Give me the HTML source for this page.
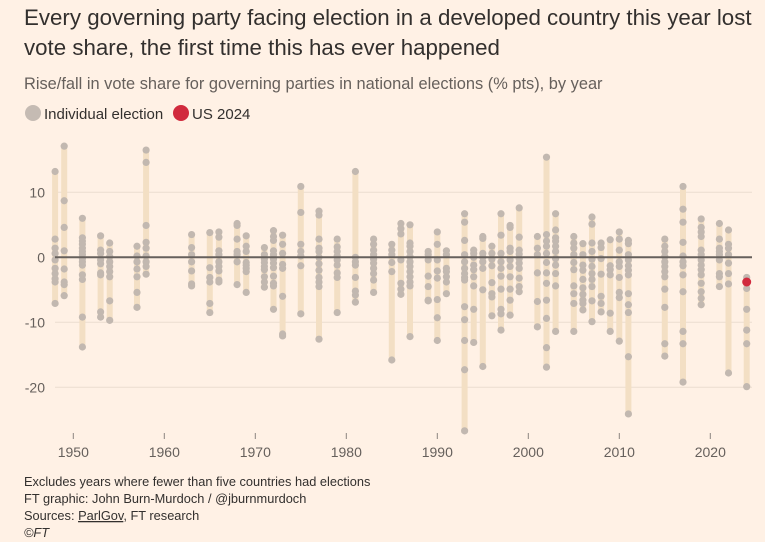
<!DOCTYPE html>
<html><head><meta charset="utf-8"><style>
body{margin:0;background:#fff1e5;width:765px;height:542px;overflow:hidden;font-family:"Liberation Sans",sans-serif;}
svg{position:absolute;left:0;top:0}
</style></head><body>
<svg id="chart" width="765" height="542">
<text x="24" y="25" font-size="22.3" fill="#33302e">Every governing party facing election in a developed country this year lost</text>
<text x="24" y="55" font-size="22.3" fill="#33302e">vote share, the first time this has ever happened</text>
<text x="24" y="89" font-size="16.4" fill="#66605c">Rise/fall in vote share for governing parties in national elections (% pts), by year</text>
<circle cx="33" cy="113" r="8" fill="#c5bbb3"/>
<text x="44" y="119" font-size="15" fill="#33302e">Individual election</text>
<circle cx="181" cy="113" r="8" fill="#d12a3d"/>
<text x="192" y="119" font-size="15" fill="#33302e">US 2024</text>
<g id="grid"></g><g id="bars"></g><g id="dots"></g>
<text x="24" y="486" font-size="12.8" fill="#33302e">Excludes years where fewer than five countries had elections</text>
<text x="24" y="503" font-size="12.8" fill="#33302e">FT graphic: John Burn-Murdoch / @jburnmurdoch</text>
<text x="24" y="520" font-size="12.8" fill="#33302e">Sources: <tspan text-decoration="underline">ParlGov</tspan>, FT research</text>
<text x="24" y="537" font-size="12.8" font-style="italic" fill="#33302e">©FT</text>
</svg>
<script>
const years=[1948,1949,1951,1953,1954,1957,1958,1963,1965,1966,1968,1969,1971,1972,1973,1975,1977,1979,1981,1983,1985,1986,1987,1989,1990,1991,1993,1994,1995,1996,1997,1998,1999,2001,2002,2003,2005,2006,2007,2008,2009,2010,2011,2015,2017,2019,2021,2022,2024];
const values=[
[13.2,2.8,1.4,0.6,-0.4,-1.7,-2.5,-3.3,-3.8,-7.1],
[17.1,8.7,4.6,1.0,-1.8,-3.8,-4.2,-5.9],
[6.0,3.0,2.5,2.0,1.4,0.9,0.4,-0.2,-0.7,-1.2,-2.7,-3.4,-9.2,-13.8],
[3.3,1.1,0.6,-0.4,-1.0,-2.4,-2.7,-8.4,-9.2],
[2.2,0.9,0.1,-0.7,-1.4,-2.2,-3.0,-6.7,-9.7],
[1.7,0.2,-0.7,-1.8,-3.0,-5.4,-7.7],
[16.5,14.6,4.9,2.3,1.4,0.2,-0.7,-1.4,-2.6],
[3.5,1.5,0.4,-0.7,-2.1,-4.1,-4.4],
[3.8,-1.6,-3.1,-3.8,-7.1,-8.5],
[3.9,3.1,1.0,0.4,-0.7,-1.4,-2.1,-3.5,-3.8],
[5.2,4.9,2.8,0.9,0.4,-0.7,-4.2],
[3.3,1.7,0.9,-0.8,-1.2,-1.7,-2.2,-5.4],
[1.5,0.4,-0.3,-0.8,-1.4,-1.9,-3.0,-3.8,-4.6],
[4.1,3.2,2.6,1.0,0.4,-0.3,-0.9,-1.6,-2.9,-4.0,-4.4,-8.0],
[3.4,2.0,0.6,-1.1,-1.7,-6.0,-11.8,-12.1],
[10.9,6.9,2.0,0.9,0.2,-1.3,-8.7],
[7.1,6.5,2.8,1.4,0.9,0.0,-1.0,-2.0,-3.1,-3.8,-4.5,-12.6],
[2.8,1.6,0.9,0.2,-0.4,-1.2,-2.4,-3.1,-8.5],
[13.2,0.0,-0.7,-1.2,-3.1,-5.2,-5.8,-6.9],
[2.8,2.0,1.1,0.4,-0.3,-0.9,-1.7,-2.5,-3.5,-5.4],
[2.0,1.1,0.4,-0.8,-2.2,-15.8],
[5.2,4.4,3.6,-0.4,-4.0,-4.9,-5.7],
[5.0,2.2,1.7,0.9,0.1,-0.7,-1.4,-2.2,-3.0,-3.8,-4.4,-12.2],
[0.9,0.4,-0.4,-2.9,-4.5,-6.6,-6.7],
[3.9,2.0,-0.4,-2.1,-3.2,-6.5,-9.3,-12.8],
[1.0,0.4,-1.7,-2.2,-3.0,-3.8,-5.6],
[6.7,5.4,2.6,0.4,-0.7,-1.7,-2.5,-3.1,-3.5,-7.6,-9.6,-12.8,-17.3,-26.7],
[1.1,0.6,0.0,-1.2,-1.9,-3.0,-4.4,-8.0,-13.1],
[3.2,2.9,0.6,0.0,-0.7,-1.7,-5.0,-16.8],
[1.7,0.6,-0.3,-1.3,-3.9,-5.6,-6.1,-9.0],
[6.7,3.4,0.6,-0.7,-1.7,-2.9,-4.9,-8.0,-8.7,-11.2],
[4.9,4.6,1.4,0.9,-0.4,-1.4,-3.0,-4.9,-6.6,-8.9],
[7.6,3.1,1.1,0.5,-0.2,-0.9,-1.7,-3.2,-4.5,-5.3],
[3.2,1.4,0.4,-2.4,-6.8,-10.7],
[15.4,3.5,2.5,1.7,0.6,-0.8,-2.4,-4.0,-6.6,-9.4,-13.9,-16.9],
[6.7,4.2,3.0,2.5,1.7,0.9,-0.2,-1.2,-2.5,-4.4,-11.4],
[3.2,2.2,1.4,0.4,-0.8,-1.9,-4.4,-5.6,-7.1,-11.4],
[2.1,0.4,-1.2,-2.0,-3.4,-4.7,-5.7,-6.6,-7.1,-8.1],
[6.2,5.1,2.2,0.9,-0.3,-1.4,-2.5,-3.4,-4.5,-6.7,-9.9],
[2.2,1.5,-0.2,-2.6,-6.0,-7.1,-8.4],
[2.7,-1.3,-1.9,-2.7,-8.6,-11.4],
[3.9,2.8,1.1,-0.7,-1.4,-3.1,-5.4,-6.2,-12.9],
[2.6,2.1,0.4,-0.4,-1.3,-2.0,-2.7,-5.6,-7.3,-8.5,-15.3,-24.1],
[2.8,1.7,0.9,0.1,-0.7,-1.4,-2.2,-3.0,-4.9,-7.7,-13.3,-15.2],
[10.9,7.4,5.4,2.3,0.2,-0.7,-1.3,-2.7,-5.3,-11.4,-13.3,-19.2],
[5.9,4.6,3.9,3.2,1.1,0.4,-0.4,-1.2,-1.9,-2.7,-4.0,-5.3,-6.3,-7.3],
[5.2,2.8,1.4,0.9,0.4,-0.4,-2.5,-3.0,-4.5],
[4.2,2.0,1.4,0.4,-0.9,-2.5,-4.1,-17.8],
[-3.1,-4.8,-8.0,-11.2,-13.3,-19.9]
];
const usYear=2024;
const usValue=-3.8;
const yTicks=[10,0,-10,-20];
const xTicks=[1950,1960,1970,1980,1990,2000,2010,2020];

const NS="http://www.w3.org/2000/svg";
const X=y=>73.3+(y-1950)*9.1;
const Y=v=>257.3-v*6.5;
function mk(tag,attrs,parent){const e=document.createElementNS(NS,tag);for(const k in attrs)e.setAttribute(k,attrs[k]);parent.appendChild(e);return e;}
const grid=document.getElementById('grid'),bars=document.getElementById('bars'),dots=document.getElementById('dots');
yTicks.forEach(t=>{
  if(t!==0){const l=mk('line',{x1:55,x2:752,y1:Y(t),y2:Y(t),stroke:'#ebddd0','stroke-width':1},grid);
  
  }
  const tx=mk('text',{x:45,y:Y(t)+5,'text-anchor':'end','font-size':14,fill:'#66605c'},grid);
  tx.textContent=t;
  
  
});
xTicks.forEach(t=>{
  const l=mk('line',{x1:X(t),x2:X(t),y1:433,y2:439,stroke:'#8a8480','stroke-width':1},grid);
  
  
  const tx=mk('text',{x:X(t),y:457,'text-anchor':'middle','font-size':14,fill:'#66605c'},grid);
  tx.textContent=t;
  
  
});
years.forEach((yr,i)=>{
  const vs=values[i];
  let mx=Math.max(...vs),mn=Math.min(...vs);
  if(yr===usYear){mx=Math.max(mx,usValue);mn=Math.min(mn,usValue);}
  const r=mk('rect',{x:X(yr)-3,y:Y(mx),width:6,height:Y(mn)-Y(mx),fill:'#f3dfc4'},bars);
  
  
  vs.forEach(v=>{
    const c=mk('circle',{cx:X(yr),cy:Y(v),r:3.6,fill:'#c2b8b0'},dots);
    
    
  });
});
const z=mk('line',{x1:55,x2:752,y1:Y(0),y2:Y(0),stroke:'#66605c','stroke-width':2},dots);


const us=mk('circle',{cx:X(usYear),cy:Y(usValue),r:4.5,fill:'#d12a3d'},dots);


</script>
</body></html>
